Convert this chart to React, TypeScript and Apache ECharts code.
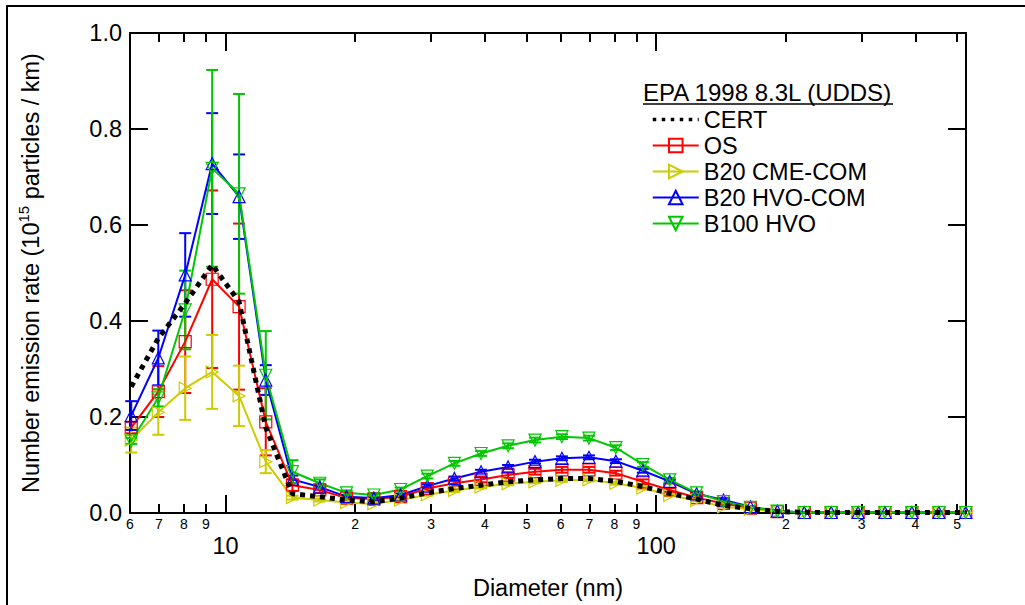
import React, { useEffect, useRef } from "react";
import * as echarts from "echarts";

const FONT = "Liberation Sans, Arial, sans-serif";

// Particle diameters (nm), 16 channels per decade
const diameters = [6.04, 6.98, 8.06, 9.31, 10.75, 12.4, 14.3, 16.55, 19.1, 22.1, 25.5, 29.4, 34.0, 39.2, 45.3, 52.3, 60.4, 69.8, 80.6, 93.1, 107.5, 124.1, 143.3, 165.5, 191.1, 220.7, 254.8, 294.3, 339.8, 392.4, 453.2, 523.3];

const cert = [0.263, 0.364, 0.437, 0.517, 0.44, 0.178, 0.04, 0.034, 0.027, 0.0235, 0.031, 0.042, 0.051, 0.058, 0.065, 0.069, 0.072, 0.072, 0.066, 0.055, 0.041, 0.029, 0.016, 0.009, 0.003, 0.0015, 0.001, 0.001, 0.001, 0.001, 0.001, 0.001];

const os = [0.178, 0.253, 0.357, 0.487, 0.43, 0.19, 0.058, 0.048, 0.031, 0.029, 0.034, 0.051, 0.062, 0.07, 0.079, 0.086, 0.09, 0.09, 0.083, 0.065, 0.048, 0.032, 0.02, 0.01, 0.003, 0.001, 0.001, 0.001, 0.001, 0.001, 0.001, 0.001];
const osErr = [0.012, 0.053, 0.107, 0.185, 0.173, 0.07, 0.012, 0.006, 0.004, 0.003, 0.003, 0.004, 0.005, 0.006, 0.006, 0.006, 0.006, 0.006, 0.005, 0.005, 0.004, 0.003, 0.002, 0.001, 0, 0, 0, 0, 0, 0, 0, 0];

const cme = [0.152, 0.21, 0.26, 0.294, 0.244, 0.107, 0.032, 0.027, 0.022, 0.019, 0.027, 0.038, 0.047, 0.054, 0.061, 0.065, 0.068, 0.069, 0.062, 0.052, 0.037, 0.026, 0.013, 0.008, 0.003, 0.001, 0.001, 0.001, 0.001, 0.001, 0.001, 0.001];
const cmeErr = [0.026, 0.047, 0.066, 0.077, 0.063, 0.024, 0.004, 0.003, 0.002, 0.002, 0.002, 0.002, 0.003, 0.003, 0.003, 0.003, 0.003, 0.003, 0.003, 0.003, 0.002, 0.002, 0.001, 0.001, 0, 0, 0, 0, 0, 0, 0, 0];

const hvo = [0.203, 0.323, 0.496, 0.728, 0.659, 0.277, 0.07, 0.054, 0.034, 0.031, 0.0375, 0.056, 0.072, 0.086, 0.096, 0.107, 0.114, 0.116, 0.108, 0.088, 0.066, 0.04, 0.027, 0.013, 0.004, 0.001, 0.001, 0.001, 0.001, 0.001, 0.001, 0.001];
const hvoErr = [0.03, 0.057, 0.087, 0.105, 0.088, 0.031, 0.008, 0.005, 0.003, 0.003, 0.003, 0.004, 0.004, 0.004, 0.004, 0.004, 0.004, 0.004, 0.004, 0.004, 0.003, 0.003, 0.002, 0.001, 0, 0, 0, 0, 0, 0, 0, 0];

const b100 = [0.15, 0.24, 0.423, 0.718, 0.665, 0.287, 0.086, 0.062, 0.042, 0.0375, 0.049, 0.077, 0.1035, 0.124, 0.14, 0.152, 0.159, 0.156, 0.136, 0.101, 0.069, 0.042, 0.024, 0.012, 0.004, 0.001, 0.001, 0.001, 0.001, 0.001, 0.001, 0.001];
const b100Err = [0.006, 0.018, 0.082, 0.205, 0.208, 0.092, 0.024, 0.008, 0.005, 0.004, 0.004, 0.005, 0.005, 0.005, 0.005, 0.005, 0.005, 0.005, 0.005, 0.005, 0.004, 0.003, 0.002, 0.001, 0, 0, 0, 0, 0, 0, 0, 0];

const majorTicks = [10, 100];
const minorTicks = [6, 7, 8, 9, 20, 30, 40, 50, 60, 70, 80, 90, 200, 300, 400, 500];

const RED = "#ff0000";
const YELLOW = "#cccc00";
const BLUE = "#0000ff";
const GREEN = "#00c800";
const BIG = 23.5;

function minorLabel(v: number) {
  const p = Math.pow(10, Math.floor(Math.log10(v) + 1e-9));
  return String(Math.round(v / p));
}

function errSeries(vals: number[], errs: number[], color: string) {
  return {
    type: "custom",
    silent: true,
    z: 2,
    renderItem: (_params: any, api: any) => {
      const x = api.value(0);
      const lo = api.value(1);
      const hi = api.value(2);
      if (hi - lo <= 0) return { type: "group", children: [] };
      const t = api.coord([x, hi]);
      const b = api.coord([x, lo]);
      const w = 6;
      const st = { stroke: color, lineWidth: 2 };
      return {
        type: "group",
        children: [
          { type: "line", shape: { x1: t[0], y1: t[1], x2: b[0], y2: b[1] }, style: st },
          { type: "line", shape: { x1: t[0] - w, y1: t[1], x2: t[0] + w, y2: t[1] }, style: st },
          { type: "line", shape: { x1: b[0] - w, y1: b[1], x2: b[0] + w, y2: b[1] }, style: st },
        ],
      };
    },
    encode: { x: 0, y: [1, 2] },
    data: diameters.map((d, i) => [d, vals[i] - errs[i], vals[i] + errs[i]]),
  };
}

function lineSeries(name: string, vals: number[], color: string, symbol: string, rotate: number) {
  return {
    type: "line",
    name,
    z: 3,
    data: diameters.map((d, i) => [d, vals[i]]),
    symbol,
    symbolSize: 12,
    symbolRotate: rotate,
    showAllSymbol: true,
    lineStyle: { color, width: 2 },
    itemStyle: { color: "none", borderColor: color, borderWidth: 1.2 },
  };
}

export default function App() {
  const ref = useRef<HTMLDivElement>(null);
  useEffect(() => {
    const chart = echarts.init(ref.current!, null, { renderer: "svg" });
    const axisBase = {
      type: "log",
      logBase: 10,
      min: 6,
      max: 524,
      splitLine: { show: false },
      minorTick: { show: false },
    };
    const option: any = {
      animation: false,
      backgroundColor: "#fff",
      textStyle: { fontFamily: FONT },
      grid: { left: 130, right: 59, top: 33, bottom: 92 },
      legend: {
        left: 646,
        top: 102,
        orient: "vertical",
        itemWidth: 46,
        itemHeight: 17,
        itemGap: 1,
        textStyle: { fontSize: BIG, color: "#000", fontFamily: FONT, lineHeight: 25 },
        data: [
          { name: "CERT", lineStyle: { width: 3.5, type: [3.5, 5.5] } },
          "OS",
          "B20 CME-COM",
          "B20 HVO-COM",
          "B100 HVO",
        ],
      },
      graphic: [
        {
          type: "rect",
          shape: { x: 7, y: 6, width: 1040, height: 640 },
          style: { fill: "none", stroke: "#000", lineWidth: 2 },
        },
        {
          type: "text",
          left: 643,
          top: 80,
          style: { text: "EPA 1998 8.3L (UDDS)", fontSize: 24, fill: "#000", fontFamily: FONT },
        },
        {
          type: "line",
          shape: { x1: 643, y1: 104, x2: 893, y2: 104 },
          style: { stroke: "#000", lineWidth: 1.5 },
        },
      ],
      xAxis: [
        {
          ...axisBase,
          position: "bottom",
          axisLine: { show: true, onZero: false, lineStyle: { color: "#000", width: 2 } },
          axisTick: { show: true, inside: true, length: 9, customValues: minorTicks, lineStyle: { color: "#000", width: 2 } },
          axisLabel: { customValues: minorTicks, formatter: (v: number) => minorLabel(v), fontSize: 14, color: "#000", margin: 4, fontFamily: FONT },
          name: "Diameter (nm)",
          nameLocation: "middle",
          nameGap: 63,
          nameTextStyle: { fontSize: BIG, color: "#000", fontFamily: FONT },
        },
        {
          ...axisBase,
          position: "bottom",
          axisLine: { show: false, onZero: false },
          axisTick: { show: true, inside: true, length: 18, customValues: majorTicks, lineStyle: { color: "#000", width: 2 } },
          axisLabel: { customValues: majorTicks, formatter: (v: number) => String(Math.round(v)), fontSize: BIG, color: "#000", margin: 21, fontFamily: FONT },
        },
        {
          ...axisBase,
          position: "top",
          axisLine: { show: true, onZero: false, lineStyle: { color: "#000", width: 2 } },
          axisTick: { show: true, inside: true, length: 9, customValues: minorTicks, lineStyle: { color: "#000", width: 2 } },
          axisLabel: { show: false },
        },
        {
          ...axisBase,
          position: "top",
          axisLine: { show: false, onZero: false },
          axisTick: { show: true, inside: true, length: 18, customValues: majorTicks, lineStyle: { color: "#000", width: 2 } },
          axisLabel: { show: false },
        },
      ],
      yAxis: [
        {
          type: "value",
          min: 0,
          max: 1,
          interval: 0.2,
          position: "left",
          splitLine: { show: false },
          axisLine: { show: true, onZero: false, lineStyle: { color: "#000", width: 2 } },
          axisTick: { show: true, inside: true, length: 18, lineStyle: { color: "#000", width: 2 } },
          axisLabel: { formatter: (v: number) => v.toFixed(1), fontSize: BIG, color: "#000", margin: 8, fontFamily: FONT },
          name: "Number emission rate (10{sup|15} particles / km)",
          nameLocation: "middle",
          nameRotate: 90,
          nameGap: 84,
          nameTextStyle: {
            fontSize: BIG,
            color: "#000",
            fontFamily: FONT,
            rich: { sup: { fontSize: 15, color: "#000", fontFamily: FONT, padding: [0, 0, 15, 0] } },
          },
        },
        {
          type: "value",
          min: 0,
          max: 1,
          interval: 0.2,
          position: "right",
          splitLine: { show: false },
          axisLine: { show: true, onZero: false, lineStyle: { color: "#000", width: 2 } },
          axisTick: { show: true, inside: true, length: 18, lineStyle: { color: "#000", width: 2 } },
          axisLabel: { show: false },
        },
      ],
      series: [
        lineSeries("OS", os, RED, "rect", 0),
        lineSeries("B20 CME-COM", cme, YELLOW, "triangle", -90),
        lineSeries("B20 HVO-COM", hvo, BLUE, "triangle", 0),
        lineSeries("B100 HVO", b100, GREEN, "triangle", 180),
        errSeries(os, osErr, RED),
        errSeries(cme, cmeErr, YELLOW),
        errSeries(hvo, hvoErr, BLUE),
        errSeries(b100, b100Err, GREEN),
        {
          type: "line",
          name: "CERT",
          z: 4,
          data: diameters.map((d, i) => [d, cert[i]]),
          symbol: "none",
          lineStyle: { color: "#000", width: 5, type: [5, 5], cap: "butt" },
          itemStyle: { color: "none", borderColor: "none", opacity: 0 },
        },
      ],
    };
    chart.setOption(option);
    return () => chart.dispose();
  }, []);
  return <div ref={ref} style={{ position: "absolute", left: 0, top: 0, width: 1025, height: 605 }} />;
}
